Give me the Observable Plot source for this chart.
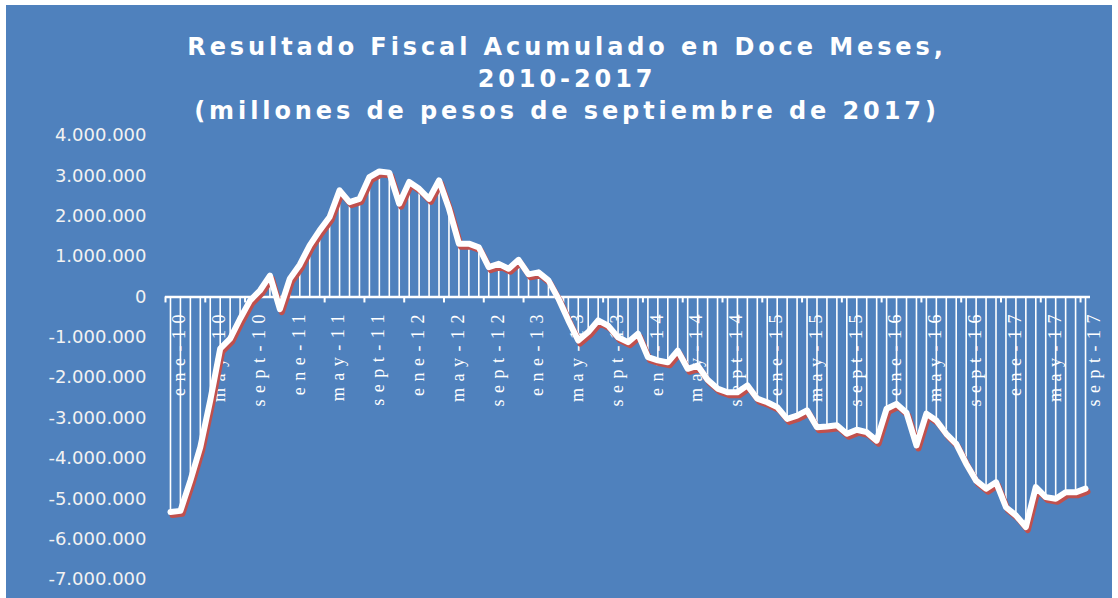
<!DOCTYPE html>
<html>
<head>
<meta charset="utf-8">
<script src="https://cdn.jsdelivr.net/npm/d3@7"></script>
<script src="https://cdn.jsdelivr.net/npm/@observablehq/plot@0.6"></script>
<style>
  html, body { margin: 0; padding: 0; background: #ffffff; overflow: hidden; }
  #wrap { position: relative; width: 1118px; height: 598px; }
  #panel { position: absolute; left: 6px; top: 5px; width: 1106px; height: 593px; background: #4F81BD; }
  #title { position: absolute; left: 0; top: 31px; width: 1134px; text-align: center;
           font-family: "DejaVu Sans", Verdana, sans-serif; font-weight: bold; font-size: 24px;
           line-height: 32px; letter-spacing: 3.9px; color: #ffffff; }
  #chart { position: absolute; left: 0; top: 0; }
</style>
</head>
<body>
<div id="wrap">
  <div id="panel"></div>
  <div id="chart"></div>
  <div id="title">Resultado Fiscal Acumulado en Doce Meses,<br>2010-2017<br>(millones de pesos de septiembre de 2017)</div>
</div>
<script>
// Monthly twelve-month accumulated fiscal result, ene-10 .. sept-17 (millones de pesos)
const values = [
  -5330000, -5300000, -4550000, -3720000, -2560000, -1280000, -1030000, -540000, -90000, 160000,
  530000, -300000, 450000, 800000, 1280000, 1650000, 1980000, 2640000, 2350000, 2430000,
  2970000, 3110000, 3080000, 2310000, 2850000, 2680000, 2430000, 2890000, 2190000, 1320000,
  1320000, 1230000, 740000, 820000, 700000, 920000, 560000, 610000, 410000, -40000,
  -580000, -1080000, -870000, -580000, -710000, -1000000, -1120000, -910000, -1490000, -1570000,
  -1620000, -1330000, -1780000, -1700000, -2050000, -2270000, -2360000, -2360000, -2190000, -2520000,
  -2610000, -2730000, -3020000, -2940000, -2810000, -3230000, -3210000, -3180000, -3390000, -3290000,
  -3350000, -3560000, -2770000, -2650000, -2870000, -3680000, -2890000, -3060000, -3390000, -3640000,
  -4130000, -4550000, -4750000, -4590000, -5210000, -5410000, -5700000, -4710000, -4960000, -5000000,
  -4840000, -4840000, -4750000
];
// Category labels shown on the axis (every fourth month)
const tickLabels = [
  "ene-10", "may-10", "sept-10", "ene-11", "may-11", "sept-11", "ene-12", "may-12", "sept-12",
  "ene-13", "may-13", "sept-13", "ene-14", "may-14", "sept-14", "ene-15", "may-15", "sept-15",
  "ene-16", "may-16", "sept-16", "ene-17", "may-17", "sept-17"
];
const yTicks = [4000000, 3000000, 2000000, 1000000, 0, -1000000, -2000000, -3000000, -4000000, -5000000, -6000000, -7000000];
const labelStep = 4;

const data = values.map((v, i) => ({i, v}));
const tickData = tickLabels.map((label, k) => ({i: k * labelStep, label}));
const boundaries = tickLabels.map((_, k) => k * labelStep - 0.5);

const fmt = d3.formatLocale({decimal: ",", thousands: ".", grouping: [3], currency: ["$", ""], minus: "-"}).format(",d");

const chart = Plot.plot({
  width: 1118,
  height: 598,
  marginLeft: 165,
  marginRight: 28,
  marginTop: 135,
  marginBottom: 19,
  style: {background: "transparent", overflow: "visible"},
  x: {domain: [-0.5, values.length - 0.5], axis: null},
  y: {domain: [-7000000, 4000000], axis: null},
  marks: [
    Plot.axisY(yTicks, {tickFormat: fmt, tickSize: 0, tickPadding: 19, label: null,
      fill: "#f2f2f2", fontSize: 18, fontFamily: "DejaVu Sans, Verdana, sans-serif"}),
    Plot.ruleX(data, {x: "i", y1: 0, y2: "v", stroke: "#ffffff", strokeWidth: 1.6}),
    Plot.ruleY([0], {stroke: "#ffffff", strokeWidth: 2.5}),
    Plot.ruleX(boundaries, {x: d => d, y1: 0, y2: 0, insetBottom: -6, stroke: "#ffffff", strokeWidth: 2}),
    Plot.text(tickData, {x: "i", y: 0, text: "label", rotate: -90, textAnchor: "end", lineAnchor: "middle",
      dx: 9, dy: 11, fill: "#ffffff", fontFamily: "Liberation Serif, serif", fontSize: 18}),
    Plot.line(data, {x: "i", y: "v", stroke: "#C0504D", strokeWidth: 6, dx: 2, dy: 3, strokeLinejoin: "round", strokeLinecap: "round"}),
    Plot.line(data, {x: "i", y: "v", stroke: "#ffffff", strokeWidth: 6, strokeLinejoin: "round", strokeLinecap: "round"})
  ]
});
document.getElementById("chart").appendChild(chart);
d3.select(chart).selectAll("text")
  .filter(function () { return tickLabels.includes(this.textContent); })
  .style("font-family", "'Liberation Serif', serif")
  .style("font-size", "18px")
  .style("letter-spacing", "6.5px");
</script>
</body>
</html>
